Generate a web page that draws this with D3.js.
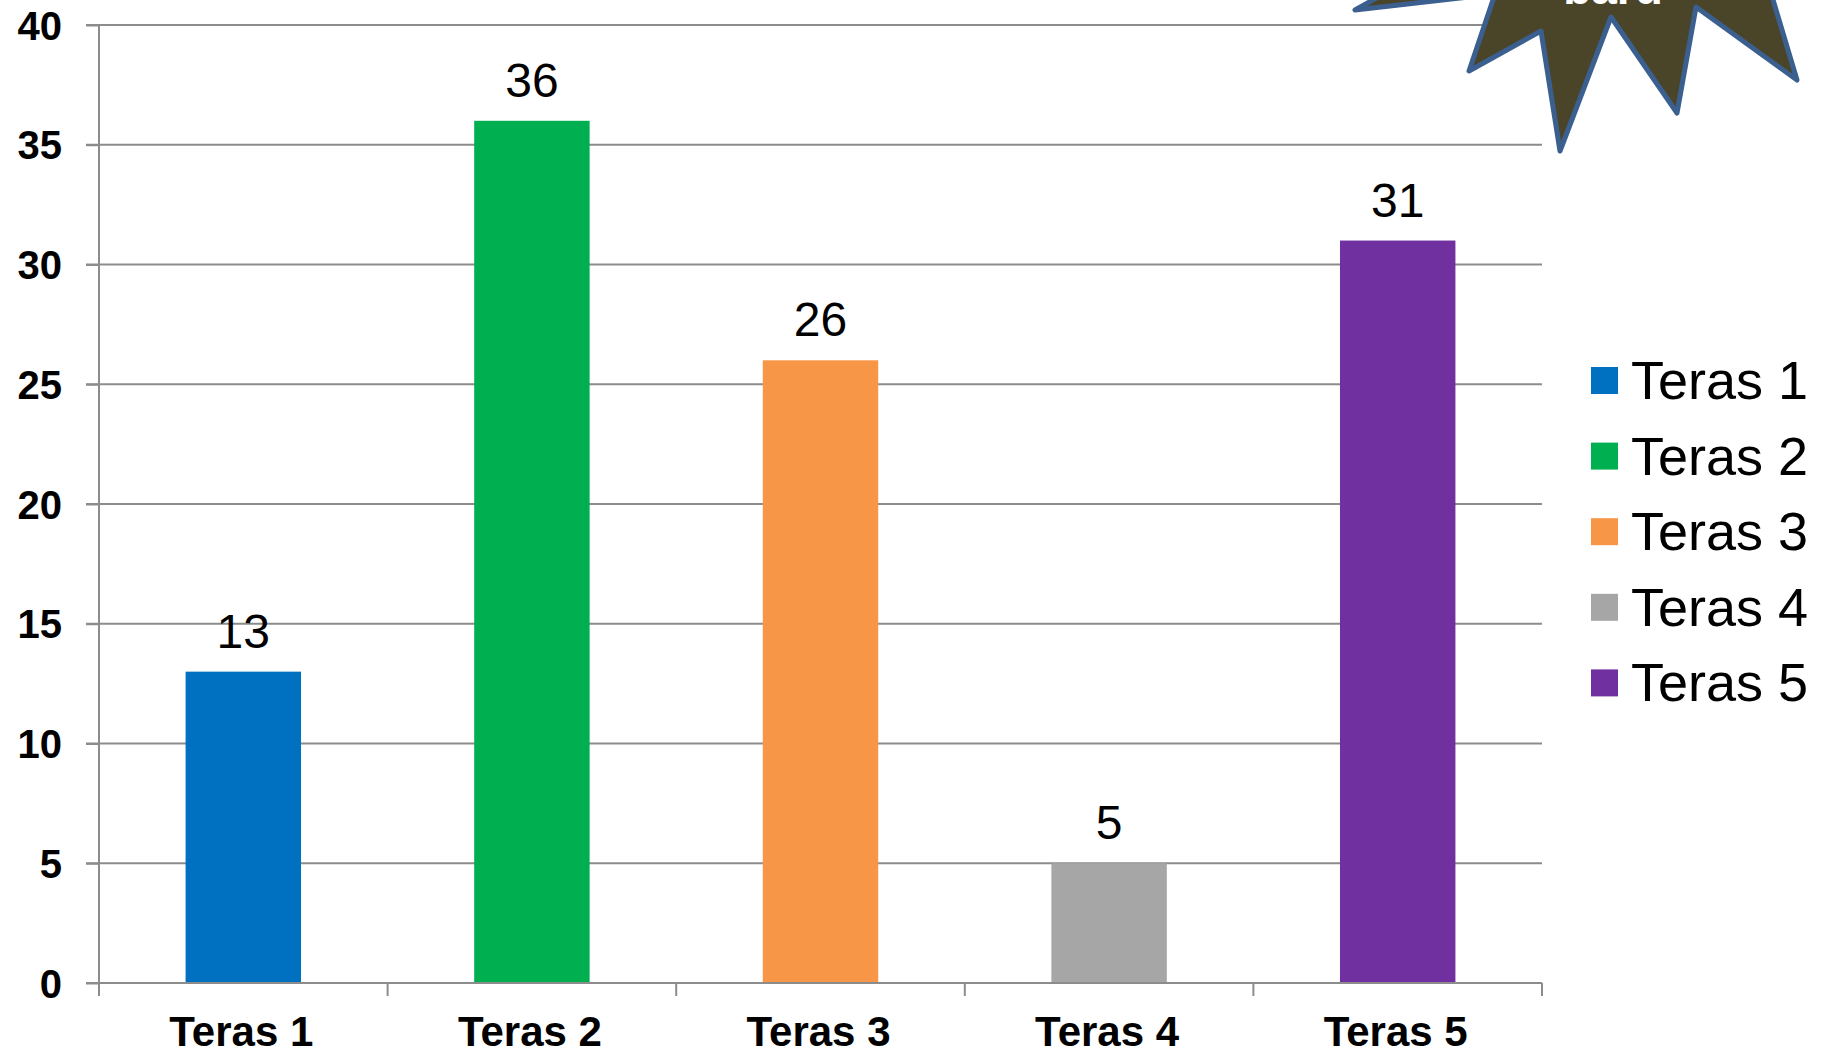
<!DOCTYPE html>
<html>
<head>
<meta charset="utf-8">
<script src="https://cdn.jsdelivr.net/npm/d3@7"></script>
<style>
  html, body { margin: 0; padding: 0; background: #fff; overflow: hidden; }
  svg { display: block; font-family: 'Liberation Sans', Arial, sans-serif; }
</style>
</head>
<body>
<div id="chart"></div>
<script>
const categories = ['Teras 1', 'Teras 2', 'Teras 3', 'Teras 4', 'Teras 5'];
const values = [13, 36, 26, 5, 31];
const colors = ['#0070C0', '#00B050', '#F79646', '#A6A6A6', '#7030A0'];
const yTicks = [0, 5, 10, 15, 20, 25, 30, 35, 40];
const badgeText = 'baru';

const W = 1827;
const H = 1055;
const plot = { left: 99, right: 1542, top: 25, bottom: 983 };
const gridColor = '#8C8C8C';

const svg = d3.select('#chart')
  .append('svg')
  .attr('width', W)
  .attr('height', H);

const x = d3.scaleBand()
  .domain(categories)
  .range([plot.left, plot.right])
  .paddingInner(0.6)
  .paddingOuter(0.3);

const y = d3.scaleLinear()
  .domain([0, 40])
  .range([plot.bottom, plot.top]);

// gridlines
svg.append('g')
  .selectAll('line')
  .data(yTicks)
  .enter()
  .append('line')
  .attr('x1', plot.left - 13)
  .attr('x2', plot.right)
  .attr('y1', d => y(d))
  .attr('y2', d => y(d))
  .attr('stroke', gridColor)
  .attr('stroke-width', 2);

// y axis
const yAxis = svg.append('g')
  .attr('transform', `translate(${plot.left},0)`)
  .call(d3.axisLeft(y).tickValues(yTicks).tickSize(13).tickPadding(24).tickFormat(d3.format('d')));
yAxis.select('.domain').remove();
yAxis.selectAll('.tick line').attr('stroke', gridColor).attr('stroke-width', 2);
yAxis.selectAll('.tick text')
  .attr('font-family', "'Liberation Sans', Arial, sans-serif")
  .attr('font-size', 40)
  .attr('font-weight', 'bold')
  .attr('fill', '#000')
  .attr('dy', 14);

svg.append('line')
  .attr('x1', plot.left)
  .attr('x2', plot.left)
  .attr('y1', plot.top)
  .attr('y2', plot.bottom + 13)
  .attr('stroke', gridColor)
  .attr('stroke-width', 2);

// x axis: ticks on band edges
const edges = categories.map((c, i) => plot.left + i * x.step());
edges.push(plot.right);
svg.append('g')
  .selectAll('line')
  .data(edges)
  .enter()
  .append('line')
  .attr('x1', d => d)
  .attr('x2', d => d)
  .attr('y1', plot.bottom)
  .attr('y2', plot.bottom + 13)
  .attr('stroke', gridColor)
  .attr('stroke-width', 2);

svg.append('g')
  .selectAll('text')
  .data(categories)
  .enter()
  .append('text')
  .attr('x', d => x(d) + x.bandwidth() / 2 - 2)
  .attr('y', 1046)
  .attr('text-anchor', 'middle')
  .attr('font-size', 42)
  .attr('font-weight', 'bold')
  .attr('fill', '#000')
  .text(d => d);

// bars
svg.append('g')
  .selectAll('rect')
  .data(values)
  .enter()
  .append('rect')
  .attr('x', (d, i) => x(categories[i]))
  .attr('y', d => y(d))
  .attr('width', x.bandwidth())
  .attr('height', d => y(0) - y(d))
  .attr('fill', (d, i) => colors[i]);

// redraw zero line over bar bottoms
svg.append('line')
  .attr('x1', plot.left - 13)
  .attr('x2', plot.right)
  .attr('y1', y(0))
  .attr('y2', y(0))
  .attr('stroke', gridColor)
  .attr('stroke-width', 2);

// value labels
svg.append('g')
  .selectAll('text')
  .data(values)
  .enter()
  .append('text')
  .attr('x', (d, i) => x(categories[i]) + x.bandwidth() / 2)
  .attr('y', d => y(d) - 24)
  .attr('text-anchor', 'middle')
  .attr('font-size', 48)
  .attr('fill', '#000')
  .text(d => d);

// legend
const legend = svg.append('g')
  .selectAll('g')
  .data(categories)
  .enter()
  .append('g')
  .attr('transform', (d, i) => `translate(1591, ${367 + i * 75.6})`);

legend.append('rect')
  .attr('width', 27)
  .attr('height', 27)
  .attr('fill', (d, i) => colors[i]);

legend.append('text')
  .attr('x', 40)
  .attr('y', 32)
  .attr('font-size', 54)
  .attr('fill', '#000')
  .text(d => d);

// "baru" badge, cut off at the top like the reference
const star = [
  [1430, -32], [1355, 10], [1495, -6], [1469, 71], [1541, 31], [1560, 151],
  [1611, 17], [1677, 113], [1696, 7], [1797, 80], [1765, -27], [1700, -150], [1480, -150]
];
svg.append('path')
  .attr('d', d3.line()(star) + 'Z')
  .attr('fill', '#4A4529')
  .attr('stroke', '#3B6090')
  .attr('stroke-width', 5)
  .attr('stroke-linejoin', 'round');

svg.append('text')
  .attr('x', 1613)
  .attr('y', 4)
  .attr('text-anchor', 'middle')
  .attr('font-size', 46)
  .attr('font-weight', 'bold')
  .attr('fill', '#fff')
  .text(badgeText);
</script>
</body>
</html>
